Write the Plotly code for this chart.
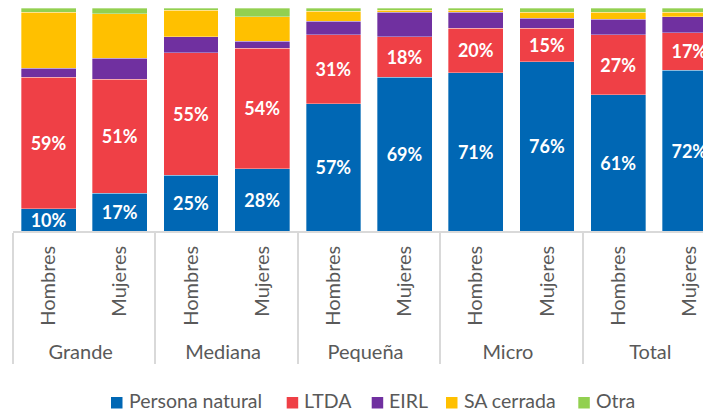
import plotly.graph_objects as go

groups = ["Grande", "Grande", "Mediana", "Mediana", "Pequeña", "Pequeña",
          "Micro", "Micro", "Total", "Total"]
sexes = ["Hombres", "Mujeres"] * 5

persona_natural = [10, 17, 25, 28, 57, 69, 71, 76, 61, 72]
ltda = [59, 51, 55, 54, 31, 18, 20, 15, 27, 17]
eirl = [4, 9.5, 7, 3, 6, 11, 7, 4.5, 7, 7]
sa_cerrada = [25, 20, 12, 11, 4.5, 1, 1, 2.5, 3, 2]
otra = [2, 2.5, 1, 4, 1.5, 1, 1, 2, 2, 2]

series_names = ["Persona natural", "LTDA", "EIRL", "SA cerrada", "Otra"]
series_values = [persona_natural, ltda, eirl, sa_cerrada, otra]
series_colors = ["#0067B4", "#EF4046", "#7030A0", "#FFC000", "#92D050"]
series_labelled = [True, True, False, False, False]

FONT = "Lato"
GRAY = "#595959"

# page has an 8px body margin: figure sized so it fits the window exactly
W, H = 703, 404
ML, MT, MB, MR = 5, 0, 181, 0
PW, PH = W - ML - MR, H - MT - MB


def px_x(x):  # window pixel -> paper x
    return (x - 8 - ML) / PW


def px_y(y):  # window pixel -> paper y
    return 1 - (y - 8 - MT) / PH


fig = go.Figure()
for name, vals, color, labelled in zip(series_names, series_values,
                                       series_colors, series_labelled):
    fig.add_trace(go.Bar(
        name=name,
        x=[groups, sexes],
        y=vals,
        marker=dict(color=color, line=dict(color="rgba(255,255,255,0.55)", width=0.6)),
        text=[f"{v:.0f}%" for v in vals] if labelled else None,
        textposition="inside" if labelled else "none",
        insidetextanchor="middle",
        constraintext="none",
        textfont=dict(family=FONT, size=18, color="white", weight="bold"),
        hoverinfo="skip",
        showlegend=False,
    ))

# legend drawn as keys + texts
legend_x = [111, 286.7, 371.7, 446, 578.3]
for name, color, lx in zip(series_names, series_colors, legend_x):
    fig.add_shape(type="rect", xref="paper", yref="paper",
                  x0=px_x(lx), x1=px_x(lx + 11.5),
                  y0=px_y(408.5), y1=px_y(397),
                  fillcolor=color, line=dict(width=0), layer="above")
    fig.add_annotation(xref="paper", yref="paper",
                       x=px_x(lx + 16.5), y=px_y(400.3),
                       xanchor="left", yanchor="middle",
                       text=name, showarrow=False, borderpad=0,
                       font=dict(family=FONT, size=19.5, color=GRAY))

fig.update_layout(
    barmode="stack",
    bargap=0.23,
    width=W, height=H,
    margin=dict(l=ML, r=MR, t=MT, b=MB, autoexpand=False),
    paper_bgcolor="white",
    plot_bgcolor="white",
    font=dict(family=FONT, size=20, color=GRAY),
    showlegend=False,
)
fig.update_xaxes(
    type="multicategory",
    range=[-0.5, 9.303],
    showline=True, linecolor="#D9D9D9", linewidth=1.5,
    showgrid=False, zeroline=False,
    tickangle=-90,
    ticks="",
    ticklabelstandoff=5,
    showdividers=True, dividercolor="#D9D9D9", dividerwidth=1.5,
    tickfont=dict(family=FONT, size=20, color=GRAY),
    automargin=False,
)
fig.update_yaxes(
    range=[0, 100],
    showticklabels=False, showgrid=False, zeroline=False, showline=False,
    automargin=False,
)

fig.write_html("out.html")
